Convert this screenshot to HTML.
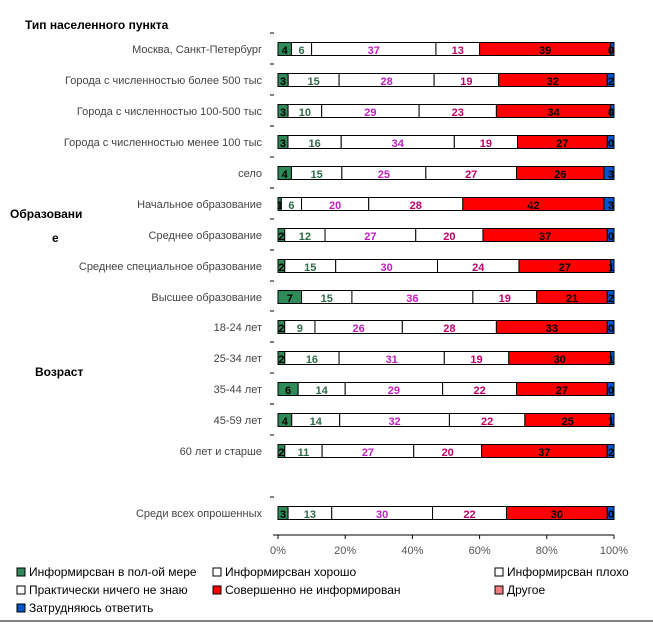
<!DOCTYPE html>
<html><head><meta charset="utf-8"><style>
body{margin:0;background:#fff;width:653px;height:628px;overflow:hidden;font-family:"Liberation Sans",sans-serif}
</style></head><body>
<svg id="chart" width="653" height="628" xmlns="http://www.w3.org/2000/svg" font-family="Liberation Sans, sans-serif"></svg>
<script>
const categories=["Москва, Санкт-Петербург","Города с численностью более 500 тыс","Города с численностью 100-500 тыс","Города с численностью менее 100 тыс","село","Начальное образование","Среднее образование","Среднее специальное образование","Высшее образование","18-24 лет","25-34 лет","35-44 лет","45-59 лет","60 лет и старше","Среди всех опрошенных"];
const full=[4,3,3,3,4,1,2,2,7,2,2,6,4,2,3];
const good=[6,15,10,16,15,6,12,15,15,9,16,14,14,11,13];
const bad=[37,28,29,34,25,20,27,30,36,26,31,29,32,27,30];
const nothing=[13,19,23,19,27,28,20,24,19,28,19,22,22,20,22];
const none=[39,32,34,27,26,42,37,27,21,33,30,27,25,37,30];
const other=[0,0,0,0,0,0,0,0,0,0,0,0,0,0,0];
const hard=[1,2,1,2,3,3,2,1,2,2,1,2,1,2,2];
const hardLabels=["0","2","0","0","3","3","0","1","2","0","1","0","1","2","0"];
const rowY=[49,80,111,142,173,204,235,266,297,327,358,389,420,451,513];
const ticks=["0%","20%","40%","60%","80%","100%"];
const seriesNames=["Информирсван в пол-ой мере","Информирсван хорошо","Информирсван плохо","Практически ничего не знаю","Совершенно не информирован","Другое","Затрудняюсь ответить"];
const colors=["#2e8b57","#fff","#fff","#fff","#ff0000","#f08080","#0055cc"];
const textColors=["#000","#2e6b47","#c020c0","#c0006a","#000","#000","#000"];
const X0=278,X1=614,BH=13;
const svg=document.getElementById('chart');
const NS="http://www.w3.org/2000/svg";
function el(t,a,p){const e=document.createElementNS(NS,t);for(const k in a)e.setAttribute(k,a[k]);(p||svg).appendChild(e);return e;}
const xs=v=>X0+(X1-X0)*v/100;
let g=el('text',{x:25,y:29,'font-size':12,'font-weight':'bold',fill:'#000'});g.textContent="Тип населенного пункта";

g=el('text',{x:10,y:218,'font-size':12,'font-weight':'bold',fill:'#000'});g.textContent="Образовани";

g=el('text',{x:52,y:242,'font-size':12,'font-weight':'bold',fill:'#000'});g.textContent="е";

g=el('text',{x:35,y:376,'font-size':12,'font-weight':'bold',fill:'#000'});g.textContent="Возраст";

categories.forEach((c,i)=>{
  const y=rowY[i];
  const t=el('text',{x:262,y:y+4,'font-size':11,'text-anchor':'end',fill:'#444'});t.textContent=c;
  
  const tk=el('line',{x1:270,x2:274,y1:y-16,y2:y-16,stroke:'#000'});
  
  const vals=[full[i],good[i],bad[i],nothing[i],none[i],other[i],hard[i]];
  const tot=vals.reduce((a,b)=>a+b,0);
  let acc=0;
  vals.forEach((v,s)=>{
    const xa=xs(acc/tot*100),xb=xs((acc+v)/tot*100);acc+=v;
    if(v<=0)return;
    const r=el('rect',{x:xa,y:y-BH/2,width:xb-xa,height:BH,fill:colors[s],stroke:'#000','stroke-width':1});
    
    const lbl=s===6?hardLabels[i]:String(v);
    if(s===5)return;
    const tx=el('text',{x:s===6?xb-3:(xa+xb)/2,y:y+5,'font-size':11,'font-weight':'bold','text-anchor':'middle',fill:textColors[s]});
    tx.textContent=lbl;
    
  });
});
const ax=el('line',{x1:273,x2:614,y1:535,y2:535,stroke:'#000'});

ticks.forEach((tl,k)=>{
  const x=xs(k*20);
  const l=el('line',{x1:x,x2:x,y1:535,y2:539,stroke:'#000'});
  
  const t=el('text',{x:x,y:554,'font-size':11,'text-anchor':'middle',fill:'#555'});t.textContent=tl;
  
});
const lx=[17,213,495],ly=[576,594,612];
seriesNames.forEach((n,s)=>{
  const x=lx[s%3],y=ly[Math.floor(s/3)];
  const r=el('rect',{x:x,y:y-8,width:8,height:8,fill:colors[s],stroke:'#000','stroke-width':1});
  
  const t=el('text',{x:x+12,y:y,'font-size':12,fill:'#000'});t.textContent=n;
  
});
const bl=el('line',{x1:0,x2:653,y1:621,y2:621,stroke:'#000'});

</script>
</body></html>
